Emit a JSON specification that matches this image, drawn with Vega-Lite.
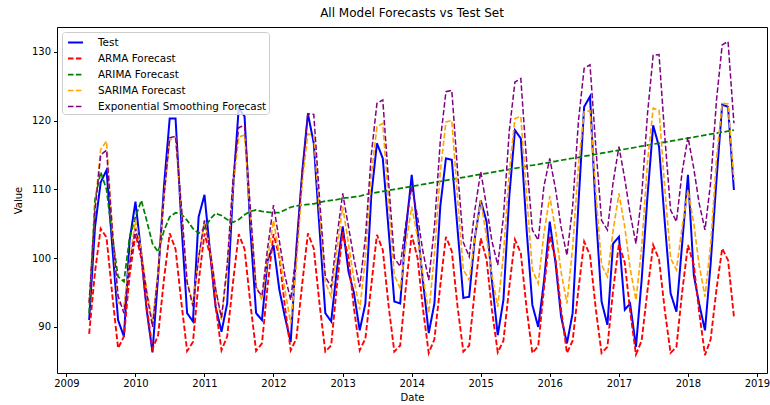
{
  "$schema": "https://vega.github.io/schema/vega-lite/v6.json",
  "width": 710,
  "height": 346,
  "autosize": {"type": "none"},
  "padding": {"left": 57, "top": 27, "right": 3, "bottom": 32},
  "config": {
    "font": "DejaVu Sans",
    "view": {"stroke": "#000000", "strokeWidth": 1},
    "axis": {"grid": false, "domain": false, "tickColor": "#000", "tickSize": 3.5, "labelFontSize": 10, "labelColor": "#000", "titleFontSize": 10, "titleColor": "#000", "titleFontWeight": "normal", "labelFont": "DejaVu Sans", "titleFont": "DejaVu Sans"}
  },
  "title": {"text": "All Model Forecasts vs Test Set", "fontSize": 12, "fontWeight": "normal", "font": "DejaVu Sans", "color": "#000", "offset": 7, "anchor": "middle"},
  "data": {"values": [
    {"date": "2009-05-01T00:00", "Test": 91.0, "ARMA Forecast": 89.0, "ARIMA Forecast": 92.0, "SARIMA Forecast": 93.5, "Exponential Smoothing Forecast": 93.5},
    {"date": "2009-06-01T00:00", "Test": 104.5, "ARMA Forecast": 98.0, "ARIMA Forecast": 108.5, "SARIMA Forecast": 107.5, "Exponential Smoothing Forecast": 107.0},
    {"date": "2009-07-01T00:00", "Test": 111.0, "ARMA Forecast": 104.3, "ARIMA Forecast": 112.5, "SARIMA Forecast": 115.8, "Exponential Smoothing Forecast": 115.0},
    {"date": "2009-08-01T00:00", "Test": 112.8, "ARMA Forecast": 103.0, "ARIMA Forecast": 110.0, "SARIMA Forecast": 117.0, "Exponential Smoothing Forecast": 115.7},
    {"date": "2009-09-01T00:00", "Test": 101.5, "ARMA Forecast": 94.5, "ARIMA Forecast": 103.0, "SARIMA Forecast": 104.0, "Exponential Smoothing Forecast": 104.0},
    {"date": "2009-10-01T00:00", "Test": 91.0, "ARMA Forecast": 86.9, "ARIMA Forecast": 97.3, "SARIMA Forecast": 93.5, "Exponential Smoothing Forecast": 94.5},
    {"date": "2009-11-01T00:00", "Test": 88.6, "ARMA Forecast": 88.6, "ARIMA Forecast": 96.6, "SARIMA Forecast": 93.0, "Exponential Smoothing Forecast": 92.0},
    {"date": "2009-12-01T00:00", "Test": 102.6, "ARMA Forecast": 97.5, "ARIMA Forecast": 103.0, "SARIMA Forecast": 99.5, "Exponential Smoothing Forecast": 99.0},
    {"date": "2010-01-01T00:00", "Test": 108.2, "ARMA Forecast": 103.5, "ARIMA Forecast": 106.0, "SARIMA Forecast": 105.5, "Exponential Smoothing Forecast": 104.3},
    {"date": "2010-02-01T00:00", "Test": 100.5, "ARMA Forecast": 100.0, "ARIMA Forecast": 108.4, "SARIMA Forecast": 101.0, "Exponential Smoothing Forecast": 100.5},
    {"date": "2010-03-01T00:00", "Test": 92.5, "ARMA Forecast": 93.0, "ARIMA Forecast": 105.5, "SARIMA Forecast": 95.5, "Exponential Smoothing Forecast": 95.0},
    {"date": "2010-04-01T00:00", "Test": 86.3, "ARMA Forecast": 86.8, "ARIMA Forecast": 102.1, "SARIMA Forecast": 90.7, "Exponential Smoothing Forecast": 90.0},
    {"date": "2010-05-01T00:00", "Test": 97.5, "ARMA Forecast": 88.8, "ARIMA Forecast": 100.9, "SARIMA Forecast": 98.0, "Exponential Smoothing Forecast": 98.0},
    {"date": "2010-06-01T00:00", "Test": 110.5, "ARMA Forecast": 97.0, "ARIMA Forecast": 104.0, "SARIMA Forecast": 109.0, "Exponential Smoothing Forecast": 109.0},
    {"date": "2010-07-01T00:00", "Test": 120.3, "ARMA Forecast": 103.6, "ARIMA Forecast": 106.0, "SARIMA Forecast": 117.2, "Exponential Smoothing Forecast": 117.5},
    {"date": "2010-08-01T00:00", "Test": 120.3, "ARMA Forecast": 101.3, "ARIMA Forecast": 106.6, "SARIMA Forecast": 117.5, "Exponential Smoothing Forecast": 117.7},
    {"date": "2010-09-01T00:00", "Test": 105.0, "ARMA Forecast": 93.5, "ARIMA Forecast": 106.4, "SARIMA Forecast": 107.0, "Exponential Smoothing Forecast": 107.5},
    {"date": "2010-10-01T00:00", "Test": 92.0, "ARMA Forecast": 86.5, "ARIMA Forecast": 105.5, "SARIMA Forecast": 96.5, "Exponential Smoothing Forecast": 96.5},
    {"date": "2010-11-01T00:00", "Test": 90.8, "ARMA Forecast": 87.8, "ARIMA Forecast": 104.3, "SARIMA Forecast": 93.5, "Exponential Smoothing Forecast": 93.0},
    {"date": "2010-12-01T00:00", "Test": 106.0, "ARMA Forecast": 96.5, "ARIMA Forecast": 103.6, "SARIMA Forecast": 100.0, "Exponential Smoothing Forecast": 100.0},
    {"date": "2011-01-01T00:00", "Test": 109.2, "ARMA Forecast": 103.6, "ARIMA Forecast": 104.3, "SARIMA Forecast": 105.5, "Exponential Smoothing Forecast": 105.5},
    {"date": "2011-02-01T00:00", "Test": 100.5, "ARMA Forecast": 100.3, "ARIMA Forecast": 105.7, "SARIMA Forecast": 101.0, "Exponential Smoothing Forecast": 101.0},
    {"date": "2011-03-01T00:00", "Test": 92.9, "ARMA Forecast": 93.0, "ARIMA Forecast": 106.5, "SARIMA Forecast": 95.5, "Exponential Smoothing Forecast": 95.5},
    {"date": "2011-04-01T00:00", "Test": 89.3, "ARMA Forecast": 86.6, "ARIMA Forecast": 106.2, "SARIMA Forecast": 91.0, "Exponential Smoothing Forecast": 91.3},
    {"date": "2011-05-01T00:00", "Test": 93.4, "ARMA Forecast": 88.6, "ARIMA Forecast": 105.6, "SARIMA Forecast": 98.5, "Exponential Smoothing Forecast": 99.0},
    {"date": "2011-06-01T00:00", "Test": 110.0, "ARMA Forecast": 96.5, "ARIMA Forecast": 105.2, "SARIMA Forecast": 110.5, "Exponential Smoothing Forecast": 111.5},
    {"date": "2011-07-01T00:00", "Test": 121.8, "ARMA Forecast": 103.5, "ARIMA Forecast": 105.6, "SARIMA Forecast": 117.6, "Exponential Smoothing Forecast": 119.0},
    {"date": "2011-08-01T00:00", "Test": 120.6, "ARMA Forecast": 101.3, "ARIMA Forecast": 106.3, "SARIMA Forecast": 117.9, "Exponential Smoothing Forecast": 119.3},
    {"date": "2011-09-01T00:00", "Test": 104.0, "ARMA Forecast": 93.3, "ARIMA Forecast": 106.8, "SARIMA Forecast": 106.0, "Exponential Smoothing Forecast": 107.0},
    {"date": "2011-10-01T00:00", "Test": 92.0, "ARMA Forecast": 86.5, "ARIMA Forecast": 107.0, "SARIMA Forecast": 96.0, "Exponential Smoothing Forecast": 95.6},
    {"date": "2011-11-01T00:00", "Test": 91.0, "ARMA Forecast": 87.6, "ARIMA Forecast": 106.8, "SARIMA Forecast": 93.9, "Exponential Smoothing Forecast": 94.5},
    {"date": "2011-12-01T00:00", "Test": 99.7, "ARMA Forecast": 96.0, "ARIMA Forecast": 106.7, "SARIMA Forecast": 100.0, "Exponential Smoothing Forecast": 101.5},
    {"date": "2012-01-01T00:00", "Test": 101.9, "ARMA Forecast": 103.5, "ARIMA Forecast": 106.6, "SARIMA Forecast": 105.5, "Exponential Smoothing Forecast": 107.7},
    {"date": "2012-02-01T00:00", "Test": 95.4, "ARMA Forecast": 100.2, "ARIMA Forecast": 106.6, "SARIMA Forecast": 100.5, "Exponential Smoothing Forecast": 102.5},
    {"date": "2012-03-01T00:00", "Test": 91.5, "ARMA Forecast": 93.0, "ARIMA Forecast": 107.0, "SARIMA Forecast": 95.5, "Exponential Smoothing Forecast": 97.5},
    {"date": "2012-04-01T00:00", "Test": 87.8, "ARMA Forecast": 86.6, "ARIMA Forecast": 107.4, "SARIMA Forecast": 90.5, "Exponential Smoothing Forecast": 93.9},
    {"date": "2012-05-01T00:00", "Test": 101.5, "ARMA Forecast": 88.3, "ARIMA Forecast": 107.6, "SARIMA Forecast": 99.0, "Exponential Smoothing Forecast": 101.0},
    {"date": "2012-06-01T00:00", "Test": 112.5, "ARMA Forecast": 96.3, "ARIMA Forecast": 107.7, "SARIMA Forecast": 111.0, "Exponential Smoothing Forecast": 112.5},
    {"date": "2012-07-01T00:00", "Test": 121.0, "ARMA Forecast": 103.6, "ARIMA Forecast": 107.8, "SARIMA Forecast": 118.1, "Exponential Smoothing Forecast": 121.0},
    {"date": "2012-08-01T00:00", "Test": 116.7, "ARMA Forecast": 101.4, "ARIMA Forecast": 107.9, "SARIMA Forecast": 117.8, "Exponential Smoothing Forecast": 120.9},
    {"date": "2012-09-01T00:00", "Test": 104.0, "ARMA Forecast": 93.2, "ARIMA Forecast": 108.1, "SARIMA Forecast": 106.5, "Exponential Smoothing Forecast": 108.5},
    {"date": "2012-10-01T00:00", "Test": 92.0, "ARMA Forecast": 86.4, "ARIMA Forecast": 108.3, "SARIMA Forecast": 96.5, "Exponential Smoothing Forecast": 97.3},
    {"date": "2012-11-01T00:00", "Test": 90.8, "ARMA Forecast": 87.3, "ARIMA Forecast": 108.4, "SARIMA Forecast": 94.4, "Exponential Smoothing Forecast": 95.8},
    {"date": "2012-12-01T00:00", "Test": 98.3, "ARMA Forecast": 95.9, "ARIMA Forecast": 108.5, "SARIMA Forecast": 101.0, "Exponential Smoothing Forecast": 103.0},
    {"date": "2013-01-01T00:00", "Test": 104.6, "ARMA Forecast": 103.8, "ARIMA Forecast": 108.7, "SARIMA Forecast": 107.5, "Exponential Smoothing Forecast": 109.4},
    {"date": "2013-02-01T00:00", "Test": 98.0, "ARMA Forecast": 100.0, "ARIMA Forecast": 108.8, "SARIMA Forecast": 102.0, "Exponential Smoothing Forecast": 104.5},
    {"date": "2013-03-01T00:00", "Test": 95.0, "ARMA Forecast": 92.8, "ARIMA Forecast": 108.9, "SARIMA Forecast": 97.0, "Exponential Smoothing Forecast": 100.0},
    {"date": "2013-04-01T00:00", "Test": 89.5, "ARMA Forecast": 86.6, "ARIMA Forecast": 109.0, "SARIMA Forecast": 92.5, "Exponential Smoothing Forecast": 95.8},
    {"date": "2013-05-01T00:00", "Test": 93.4, "ARMA Forecast": 88.3, "ARIMA Forecast": 109.26, "SARIMA Forecast": 100.0, "Exponential Smoothing Forecast": 103.0},
    {"date": "2013-06-01T00:00", "Test": 109.0, "ARMA Forecast": 96.0, "ARIMA Forecast": 109.41, "SARIMA Forecast": 112.0, "Exponential Smoothing Forecast": 115.0},
    {"date": "2013-07-01T00:00", "Test": 116.7, "ARMA Forecast": 103.4, "ARIMA Forecast": 109.55, "SARIMA Forecast": 119.1, "Exponential Smoothing Forecast": 122.5},
    {"date": "2013-08-01T00:00", "Test": 114.5, "ARMA Forecast": 101.2, "ARIMA Forecast": 109.70, "SARIMA Forecast": 119.6, "Exponential Smoothing Forecast": 123.0},
    {"date": "2013-09-01T00:00", "Test": 104.0, "ARMA Forecast": 93.0, "ARIMA Forecast": 109.85, "SARIMA Forecast": 108.0, "Exponential Smoothing Forecast": 111.0},
    {"date": "2013-10-01T00:00", "Test": 93.7, "ARMA Forecast": 86.4, "ARIMA Forecast": 109.99, "SARIMA Forecast": 97.5, "Exponential Smoothing Forecast": 100.0},
    {"date": "2013-11-01T00:00", "Test": 93.4, "ARMA Forecast": 87.3, "ARIMA Forecast": 110.14, "SARIMA Forecast": 95.6, "Exponential Smoothing Forecast": 98.8},
    {"date": "2013-12-01T00:00", "Test": 104.0, "ARMA Forecast": 95.8, "ARIMA Forecast": 110.28, "SARIMA Forecast": 102.0, "Exponential Smoothing Forecast": 105.0},
    {"date": "2014-01-01T00:00", "Test": 112.1, "ARMA Forecast": 103.4, "ARIMA Forecast": 110.43, "SARIMA Forecast": 107.5, "Exponential Smoothing Forecast": 110.4},
    {"date": "2014-02-01T00:00", "Test": 104.0, "ARMA Forecast": 100.0, "ARIMA Forecast": 110.58, "SARIMA Forecast": 103.0, "Exponential Smoothing Forecast": 106.0},
    {"date": "2014-03-01T00:00", "Test": 96.8, "ARMA Forecast": 92.7, "ARIMA Forecast": 110.72, "SARIMA Forecast": 97.5, "Exponential Smoothing Forecast": 101.0},
    {"date": "2014-04-01T00:00", "Test": 89.1, "ARMA Forecast": 86.2, "ARIMA Forecast": 110.87, "SARIMA Forecast": 92.0, "Exponential Smoothing Forecast": 96.8},
    {"date": "2014-05-01T00:00", "Test": 93.4, "ARMA Forecast": 88.2, "ARIMA Forecast": 111.01, "SARIMA Forecast": 100.5, "Exponential Smoothing Forecast": 104.5},
    {"date": "2014-06-01T00:00", "Test": 107.5, "ARMA Forecast": 96.0, "ARIMA Forecast": 111.16, "SARIMA Forecast": 112.5, "Exponential Smoothing Forecast": 117.0},
    {"date": "2014-07-01T00:00", "Test": 114.5, "ARMA Forecast": 103.1, "ARIMA Forecast": 111.31, "SARIMA Forecast": 119.8, "Exponential Smoothing Forecast": 124.2},
    {"date": "2014-08-01T00:00", "Test": 114.3, "ARMA Forecast": 101.0, "ARIMA Forecast": 111.45, "SARIMA Forecast": 120.0, "Exponential Smoothing Forecast": 124.4},
    {"date": "2014-09-01T00:00", "Test": 104.0, "ARMA Forecast": 92.8, "ARIMA Forecast": 111.60, "SARIMA Forecast": 108.5, "Exponential Smoothing Forecast": 112.5},
    {"date": "2014-10-01T00:00", "Test": 94.2, "ARMA Forecast": 86.4, "ARIMA Forecast": 111.74, "SARIMA Forecast": 98.3, "Exponential Smoothing Forecast": 102.3},
    {"date": "2014-11-01T00:00", "Test": 94.4, "ARMA Forecast": 87.3, "ARIMA Forecast": 111.89, "SARIMA Forecast": 96.8, "Exponential Smoothing Forecast": 100.2},
    {"date": "2014-12-01T00:00", "Test": 103.0, "ARMA Forecast": 95.5, "ARIMA Forecast": 112.04, "SARIMA Forecast": 103.0, "Exponential Smoothing Forecast": 107.0},
    {"date": "2015-01-01T00:00", "Test": 108.4, "ARMA Forecast": 102.9, "ARIMA Forecast": 112.18, "SARIMA Forecast": 108.4, "Exponential Smoothing Forecast": 112.6},
    {"date": "2015-02-01T00:00", "Test": 105.3, "ARMA Forecast": 99.8, "ARIMA Forecast": 112.33, "SARIMA Forecast": 103.0, "Exponential Smoothing Forecast": 107.5},
    {"date": "2015-03-01T00:00", "Test": 96.8, "ARMA Forecast": 92.5, "ARIMA Forecast": 112.47, "SARIMA Forecast": 97.5, "Exponential Smoothing Forecast": 102.5},
    {"date": "2015-04-01T00:00", "Test": 88.8, "ARMA Forecast": 86.3, "ARIMA Forecast": 112.62, "SARIMA Forecast": 92.9, "Exponential Smoothing Forecast": 99.0},
    {"date": "2015-05-01T00:00", "Test": 93.9, "ARMA Forecast": 88.0, "ARIMA Forecast": 112.77, "SARIMA Forecast": 100.5, "Exponential Smoothing Forecast": 106.0},
    {"date": "2015-06-01T00:00", "Test": 109.0, "ARMA Forecast": 95.8, "ARIMA Forecast": 112.91, "SARIMA Forecast": 112.5, "Exponential Smoothing Forecast": 118.5},
    {"date": "2015-07-01T00:00", "Test": 118.6, "ARMA Forecast": 102.7, "ARIMA Forecast": 113.06, "SARIMA Forecast": 120.3, "Exponential Smoothing Forecast": 125.6},
    {"date": "2015-08-01T00:00", "Test": 117.4, "ARMA Forecast": 100.7, "ARIMA Forecast": 113.20, "SARIMA Forecast": 120.6, "Exponential Smoothing Forecast": 126.1},
    {"date": "2015-09-01T00:00", "Test": 104.0, "ARMA Forecast": 92.6, "ARIMA Forecast": 113.35, "SARIMA Forecast": 109.0, "Exponential Smoothing Forecast": 114.0},
    {"date": "2015-10-01T00:00", "Test": 93.2, "ARMA Forecast": 86.2, "ARIMA Forecast": 113.50, "SARIMA Forecast": 98.3, "Exponential Smoothing Forecast": 104.1},
    {"date": "2015-11-01T00:00", "Test": 90.0, "ARMA Forecast": 87.2, "ARIMA Forecast": 113.64, "SARIMA Forecast": 96.3, "Exponential Smoothing Forecast": 102.6},
    {"date": "2015-12-01T00:00", "Test": 96.5, "ARMA Forecast": 95.5, "ARIMA Forecast": 113.79, "SARIMA Forecast": 103.5, "Exponential Smoothing Forecast": 110.4},
    {"date": "2016-01-01T00:00", "Test": 105.3, "ARMA Forecast": 103.2, "ARIMA Forecast": 113.93, "SARIMA Forecast": 109.0, "Exponential Smoothing Forecast": 114.5},
    {"date": "2016-02-01T00:00", "Test": 99.2, "ARMA Forecast": 99.8, "ARIMA Forecast": 114.08, "SARIMA Forecast": 104.0, "Exponential Smoothing Forecast": 110.0},
    {"date": "2016-03-01T00:00", "Test": 91.5, "ARMA Forecast": 92.5, "ARIMA Forecast": 114.23, "SARIMA Forecast": 98.0, "Exponential Smoothing Forecast": 104.5},
    {"date": "2016-04-01T00:00", "Test": 87.6, "ARMA Forecast": 86.2, "ARIMA Forecast": 114.37, "SARIMA Forecast": 93.4, "Exponential Smoothing Forecast": 100.4},
    {"date": "2016-05-01T00:00", "Test": 92.0, "ARMA Forecast": 88.0, "ARIMA Forecast": 114.52, "SARIMA Forecast": 101.5, "Exponential Smoothing Forecast": 107.5},
    {"date": "2016-06-01T00:00", "Test": 108.0, "ARMA Forecast": 95.5, "ARIMA Forecast": 114.66, "SARIMA Forecast": 113.5, "Exponential Smoothing Forecast": 120.0},
    {"date": "2016-07-01T00:00", "Test": 122.0, "ARMA Forecast": 102.4, "ARIMA Forecast": 114.81, "SARIMA Forecast": 121.3, "Exponential Smoothing Forecast": 127.6},
    {"date": "2016-08-01T00:00", "Test": 123.5, "ARMA Forecast": 100.4, "ARIMA Forecast": 114.96, "SARIMA Forecast": 121.4, "Exponential Smoothing Forecast": 128.1},
    {"date": "2016-09-01T00:00", "Test": 106.5, "ARMA Forecast": 92.5, "ARIMA Forecast": 115.10, "SARIMA Forecast": 109.5, "Exponential Smoothing Forecast": 116.0},
    {"date": "2016-10-01T00:00", "Test": 93.7, "ARMA Forecast": 86.2, "ARIMA Forecast": 115.25, "SARIMA Forecast": 99.0, "Exponential Smoothing Forecast": 105.5},
    {"date": "2016-11-01T00:00", "Test": 90.3, "ARMA Forecast": 87.1, "ARIMA Forecast": 115.39, "SARIMA Forecast": 97.3, "Exponential Smoothing Forecast": 104.1},
    {"date": "2016-12-01T00:00", "Test": 102.1, "ARMA Forecast": 95.3, "ARIMA Forecast": 115.54, "SARIMA Forecast": 104.0, "Exponential Smoothing Forecast": 111.0},
    {"date": "2017-01-01T00:00", "Test": 103.1, "ARMA Forecast": 102.1, "ARIMA Forecast": 115.69, "SARIMA Forecast": 109.4, "Exponential Smoothing Forecast": 116.2},
    {"date": "2017-02-01T00:00", "Test": 92.5, "ARMA Forecast": 99.3, "ARIMA Forecast": 115.83, "SARIMA Forecast": 104.5, "Exponential Smoothing Forecast": 111.5},
    {"date": "2017-03-01T00:00", "Test": 93.4, "ARMA Forecast": 92.3, "ARIMA Forecast": 115.98, "SARIMA Forecast": 98.5, "Exponential Smoothing Forecast": 106.5},
    {"date": "2017-04-01T00:00", "Test": 87.1, "ARMA Forecast": 86.0, "ARIMA Forecast": 116.12, "SARIMA Forecast": 93.9, "Exponential Smoothing Forecast": 102.1},
    {"date": "2017-05-01T00:00", "Test": 96.8, "ARMA Forecast": 88.0, "ARIMA Forecast": 116.27, "SARIMA Forecast": 101.5, "Exponential Smoothing Forecast": 109.0},
    {"date": "2017-06-01T00:00", "Test": 109.0, "ARMA Forecast": 95.3, "ARIMA Forecast": 116.42, "SARIMA Forecast": 114.0, "Exponential Smoothing Forecast": 121.0},
    {"date": "2017-07-01T00:00", "Test": 119.3, "ARMA Forecast": 101.9, "ARIMA Forecast": 116.56, "SARIMA Forecast": 121.8, "Exponential Smoothing Forecast": 129.5},
    {"date": "2017-08-01T00:00", "Test": 116.2, "ARMA Forecast": 99.8, "ARIMA Forecast": 116.71, "SARIMA Forecast": 121.5, "Exponential Smoothing Forecast": 129.6},
    {"date": "2017-09-01T00:00", "Test": 105.0, "ARMA Forecast": 92.3, "ARIMA Forecast": 116.85, "SARIMA Forecast": 110.0, "Exponential Smoothing Forecast": 117.5},
    {"date": "2017-10-01T00:00", "Test": 94.9, "ARMA Forecast": 86.2, "ARIMA Forecast": 117.00, "SARIMA Forecast": 100.0, "Exponential Smoothing Forecast": 107.0},
    {"date": "2017-11-01T00:00", "Test": 92.2, "ARMA Forecast": 87.1, "ARIMA Forecast": 117.15, "SARIMA Forecast": 98.3, "Exponential Smoothing Forecast": 105.3},
    {"date": "2017-12-01T00:00", "Test": 102.0, "ARMA Forecast": 95.0, "ARIMA Forecast": 117.29, "SARIMA Forecast": 104.5, "Exponential Smoothing Forecast": 112.5},
    {"date": "2018-01-01T00:00", "Test": 112.1, "ARMA Forecast": 101.9, "ARIMA Forecast": 117.44, "SARIMA Forecast": 109.9, "Exponential Smoothing Forecast": 117.6},
    {"date": "2018-02-01T00:00", "Test": 97.5, "ARMA Forecast": 99.0, "ARIMA Forecast": 117.58, "SARIMA Forecast": 105.0, "Exponential Smoothing Forecast": 113.0},
    {"date": "2018-03-01T00:00", "Test": 93.4, "ARMA Forecast": 92.2, "ARIMA Forecast": 117.73, "SARIMA Forecast": 99.0, "Exponential Smoothing Forecast": 108.0},
    {"date": "2018-04-01T00:00", "Test": 89.5, "ARMA Forecast": 85.9, "ARIMA Forecast": 117.88, "SARIMA Forecast": 94.4, "Exponential Smoothing Forecast": 104.1},
    {"date": "2018-05-01T00:00", "Test": 99.2, "ARMA Forecast": 88.2, "ARIMA Forecast": 118.02, "SARIMA Forecast": 102.0, "Exponential Smoothing Forecast": 111.0},
    {"date": "2018-06-01T00:00", "Test": 111.4, "ARMA Forecast": 95.5, "ARIMA Forecast": 118.17, "SARIMA Forecast": 114.5, "Exponential Smoothing Forecast": 123.0},
    {"date": "2018-07-01T00:00", "Test": 122.3, "ARMA Forecast": 101.4, "ARIMA Forecast": 118.31, "SARIMA Forecast": 122.5, "Exponential Smoothing Forecast": 131.0},
    {"date": "2018-08-01T00:00", "Test": 122.0, "ARMA Forecast": 99.7, "ARIMA Forecast": 118.46, "SARIMA Forecast": 122.4, "Exponential Smoothing Forecast": 131.5},
    {"date": "2018-09-01T00:00", "Test": 109.9, "ARMA Forecast": 91.5, "ARIMA Forecast": 118.61, "SARIMA Forecast": 111.4, "Exponential Smoothing Forecast": 119.6}
  ]},
  "transform": [
    {"fold": ["Test", "ARMA Forecast", "ARIMA Forecast", "SARIMA Forecast", "Exponential Smoothing Forecast"], "as": ["series", "value"]}
  ],
  "mark": {"type": "line", "clip": true},
  "encoding": {
    "x": {
      "field": "date", "type": "temporal",
      "scale": {"domain": [{"year": 2008, "month": 11, "date": 12}, {"year": 2019, "month": 2, "date": 23}]},
      "axis": {"title": "Date", "format": "%Y", "tickCount": {"interval": "year", "step": 1}, "labelPadding": 2, "titlePadding": 4, "labelFlush": false, "labelOverlap": false}
    },
    "y": {
      "field": "value", "type": "quantitative",
      "scale": {"domain": [83.3, 133.6], "nice": false, "zero": false},
      "axis": {"title": "Value", "values": [90, 100, 110, 120, 130], "labelPadding": 3, "titlePadding": 8}
    },
    "color": {
      "field": "series", "type": "nominal",
      "scale": {"domain": ["Test", "ARMA Forecast", "ARIMA Forecast", "SARIMA Forecast", "Exponential Smoothing Forecast"], "range": ["#0000ff", "#ff0000", "#008000", "#ffa500", "#800080"]},
      "legend": {"title": null, "orient": "top-left", "offset": 5, "padding": 2, "strokeColor": "#cccccc", "fillColor": "rgba(255,255,255,0.8)", "cornerRadius": 3, "labelFontSize": 10.4, "labelColor": "#000", "labelFont": "DejaVu Sans", "labelLimit": 0, "symbolType": "stroke", "symbolSize": 225, "rowPadding": 2, "labelOffset": 14, "symbolOffset": 3}
    },
    "strokeDash": {
      "field": "series", "type": "nominal",
      "scale": {"domain": ["Test", "ARMA Forecast", "ARIMA Forecast", "SARIMA Forecast", "Exponential Smoothing Forecast"], "range": [[1, 0], [5.5, 2.4], [5.5, 2.4], [5.5, 2.4], [5.5, 2.4]]},
      "legend": {"title": null}
    },
    "strokeWidth": {
      "field": "series", "type": "nominal",
      "scale": {"domain": ["Test", "ARMA Forecast", "ARIMA Forecast", "SARIMA Forecast", "Exponential Smoothing Forecast"], "range": [2, 1.5, 1.5, 1.5, 1.5]},
      "legend": {"title": null}
    }
  }
}
